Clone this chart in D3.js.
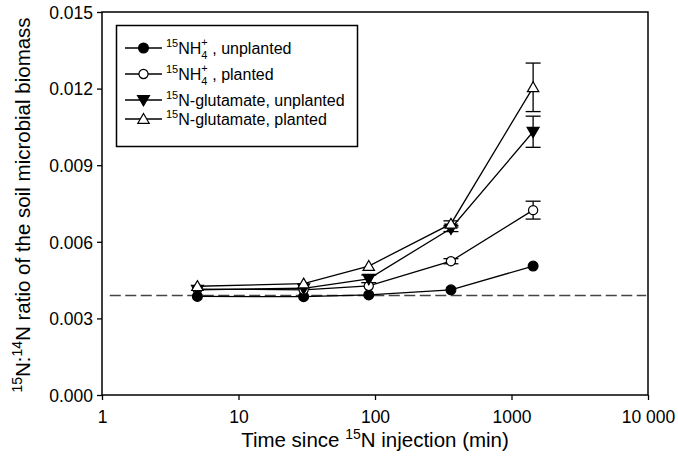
<!DOCTYPE html>
<html><head><meta charset="utf-8">
<script src="https://cdn.jsdelivr.net/npm/d3@7"></script>
<style>body{margin:0;background:#fff}svg{display:block}text{font-family:"Liberation Sans",Arial,sans-serif;fill:#000;white-space:pre}</style>
</head><body><svg id="c" width="678" height="464"></svg>
<script>
const times = [5, 30, 90, 360, 1440];
const nh4Unplanted = [0.00386, 0.00385, 0.00392, 0.00412, 0.00505];
const nh4UnplantedErr = [0, 0, 0, 0, 0];
const nh4Planted = [0.00415, 0.00412, 0.00427, 0.00524, 0.00724];
const nh4PlantedErr = [0, 0, 0, 0.0001, 0.00035];
const glutUnplanted = [0.00412, 0.00418, 0.00455, 0.00652, 0.01031];
const glutUnplantedErr = [0, 0, 0.00015, 0.00012, 0.00061];
const glutPlanted = [0.00426, 0.00436, 0.00505, 0.00670, 0.01205];
const glutPlantedErr = [0, 0, 0, 0.00012, 0.00095];
const baseline = 0.00390;
const xTicks = [1, 10, 100, 1000, 10000];
const yTicks = [0, 0.003, 0.006, 0.009, 0.012, 0.015];

const series = [
  {vals:nh4Unplanted, err:nh4UnplantedErr, shape:"circle", fill:"#000"},
  {vals:nh4Planted, err:nh4PlantedErr, shape:"circle", fill:"#fff"},
  {vals:glutUnplanted, err:glutUnplantedErr, shape:"down", fill:"#000"},
  {vals:glutPlanted, err:glutPlantedErr, shape:"up", fill:"#fff"}
];

const svg = d3.select("#c");
const L=102, R=648, T=12, B=395;
const x = d3.scaleLog().domain([1,10000]).range([L,R]);
const y = d3.scaleLinear().domain([0,0.015]).range([B,T]);
const FONT = "Liberation Sans, Arial, sans-serif";

// axes
const fmtX = d => d===10000 ? "10 000" : String(d);
const gx = svg.append("g").attr("transform",`translate(0,${B})`)
  .call(d3.axisBottom(x).tickValues(xTicks).tickFormat(fmtX).tickSize(5).tickSizeOuter(0));
gx.select(".domain").remove();
gx.selectAll("text").attr("font-size",17.5).attr("y",28).attr("dy",0).attr("font-family",FONT).attr("fill","#000");
gx.selectAll("line").attr("stroke","#000").attr("stroke-width",1.3);
const gy = svg.append("g").attr("transform",`translate(${L},0)`)
  .call(d3.axisLeft(y).tickValues(yTicks).tickFormat(d3.format(".3f")).tickSize(5).tickSizeOuter(0));
gy.select(".domain").remove();
gy.selectAll("text").attr("font-size",17.5).attr("x",-9).attr("dy","0.36em").attr("font-family",FONT).attr("fill","#000");
gy.selectAll("line").attr("stroke","#000").attr("stroke-width",1.3);
svg.append("rect").attr("x",L).attr("y",T).attr("width",R-L).attr("height",B-T)
  .attr("fill","none").attr("stroke","#000").attr("stroke-width",1.5);

// baseline dashed
svg.append("line").attr("x1",x(1.14)).attr("x2",x(9700)).attr("y1",y(baseline)).attr("y2",y(baseline))
  .attr("stroke","#444").attr("stroke-width",1.5).attr("stroke-dasharray","11,4.5");

function drawMarker(g, s, cx, cy){
  const path = s.shape==="circle"
    ? d3.symbol(d3.symbolCircle, s.fill==="#000" ? 76 : 66)()
    : d3.symbol(d3.symbolTriangle, s.fill==="#000" ? 62 : 56)();
  let tr = `translate(${cx},${cy})`;
  if(s.shape==="down") tr += " rotate(180)";
  if(s.shape!=="circle") tr += " translate(0,1)";
  g.append("path").attr("d", path).attr("fill", s.fill)
    .attr("stroke","#000").attr("stroke-width",1.2).attr("transform", tr);
}

const line = d3.line().x((d,i)=>x(times[i])).y(d=>y(d));
series.forEach(s=>{
  svg.append("path").attr("d",line(s.vals)).attr("fill","none").attr("stroke","#000").attr("stroke-width",1.3);
});
series.forEach(s=>{
  const g = svg.append("g");
  s.vals.forEach((v,i)=>{
    const e = s.err[i];
    if(e>0){
      const cx=x(times[i]);
      g.append("line").attr("x1",cx).attr("x2",cx).attr("y1",y(v-e)).attr("y2",y(v+e)).attr("stroke","#000").attr("stroke-width",1.3);
      [v-e,v+e].forEach(w=>g.append("line").attr("x1",cx-7.5).attr("x2",cx+7.5).attr("y1",y(w)).attr("y2",y(w)).attr("stroke","#000").attr("stroke-width",1.3));
    }
  });
});
series.forEach(s=>{
  const g = svg.append("g");
  s.vals.forEach((v,i)=>drawMarker(g,s,x(times[i]),y(v)));
});

// rich text helper
function rich(parent, x0, y0, pieces, fs){
  let cx = x0;
  const small = Math.round(fs*0.7);
  pieces.forEach(p=>{
    if(p.type==="subsup"){
      const a = parent.append("text").attr("x",cx).attr("y",y0+fs*0.33).attr("font-size",small).text(p.sub);
      const b = parent.append("text").attr("x",cx).attr("y",y0-fs*0.45).attr("font-size",small).text(p.sup);
      cx += Math.max(a.node().getComputedTextLength(), b.node().getComputedTextLength());
    } else {
      const dy = p.type==="sup" ? -fs*0.4 : p.type==="sub" ? fs*0.3 : 0;
      const t = parent.append("text").attr("x",cx).attr("y",y0+dy).attr("font-size",p.type==="n"?fs:small).text(p.t);
      cx += t.node().getComputedTextLength();
    }
  });
  return cx - x0;
}

// legend
const lg = svg.append("g");
lg.append("rect").attr("x",116.5).attr("y",25.5).attr("width",241).attr("height",121)
  .attr("fill","#fff").attr("stroke","#000").attr("stroke-width",1.5);
const NB = "\u00a0";
const legRows = [
  {s:series[0], y:48, label:[{t:"15",type:"sup"},{t:"NH",type:"n"},{type:"subsup",sub:"4",sup:"+"},{t:NB+", unplanted",type:"n"}]},
  {s:series[1], y:74, label:[{t:"15",type:"sup"},{t:"NH",type:"n"},{type:"subsup",sub:"4",sup:"+"},{t:NB+", planted",type:"n"}]},
  {s:series[2], y:100, label:[{t:"15",type:"sup"},{t:"N-glutamate, unplanted",type:"n"}]},
  {s:series[3], y:119, label:[{t:"15",type:"sup"},{t:"N-glutamate, planted",type:"n"}]}
];
legRows.forEach(r=>{
  lg.append("line").attr("x1",125).attr("x2",162).attr("y1",r.y).attr("y2",r.y).attr("stroke","#000").attr("stroke-width",1.3);
  drawMarker(lg, r.s, 143.5, r.y);
  rich(lg, 166, r.y+5.5, r.label, 16);
});

// axis titles
const xt = svg.append("g");
const xw = rich(xt, 0, 447, [{t:"Time since"+NB,type:"n"},{t:"15",type:"sup"},{t:"N injection (min)",type:"n"}], 20.5);
xt.attr("transform",`translate(${(L+R)/2 - xw/2},0)`);

const yt = svg.append("g");
const yw = rich(yt, 0, 0, [{t:"15",type:"sup"},{t:"N:",type:"n"},{t:"14",type:"sup"},{t:"N ratio of the soil microbial biomass",type:"n"}], 20.5);
yt.attr("transform",`translate(30,${205 + yw/2}) rotate(-90)`);
</script></body></html>
